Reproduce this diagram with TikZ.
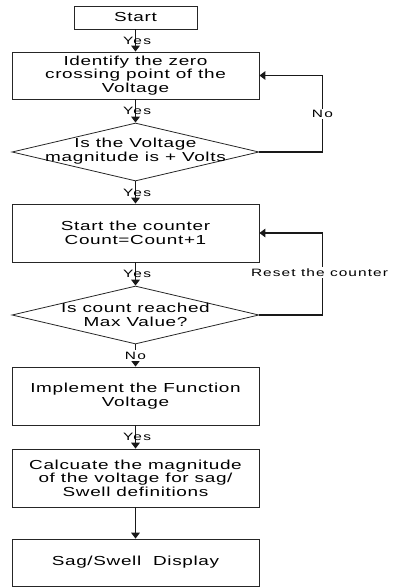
\documentclass[tikz,border=0pt]{standalone}
\usepackage{fontspec}
\setmainfont{Liberation Sans}[FakeStretch=1.45,LetterSpace=5]
\usetikzlibrary{shapes.geometric,arrows.meta}

\begin{document}
\begin{tikzpicture}[x=0.75pt,y=-0.75pt,
    box/.style={draw=black!85,line width=0.6pt,rectangle,minimum width=185.25pt,inner sep=0pt,align=center,font=\fontsize{9.8}{10.2}\selectfont},
    decision/.style={draw=black!85,line width=0.6pt,diamond,minimum width=185.25pt,minimum height=43.5pt,inner sep=0pt},
    flow/.style={draw=black!90,line width=0.9pt,-{Triangle[length=4.5pt,width=6.5pt]}},
    lbl/.style={font=\fontsize{8}{8.5}\selectfont\addfontfeature{LetterSpace=12},inner sep=1pt}]
                \useasboundingbox (0,0) rectangle (393,588);
                % 绘制流程框
                \node[box,minimum width=92.25pt,minimum height=17.25pt] (start) at (135.5,17.5) {Start};
                \node[box,minimum height=35.25pt] (zero) at (135.5,75.5) {Identify the zero\\crossing point of the\\Voltage};
                \node[decision] (chkv) at (135.5,152) {};
                \node[box,draw=none,minimum width=0pt] (chkvtxt) at (135.5,151) {Is the Voltage\\magnitude is + Volts};
                \node[box,minimum height=43.5pt] (count) at (135.5,233) {Start the counter\\Count=Count+1};
                \node[decision] (chkc) at (135.5,315) {};
                \node[box,draw=none,minimum width=0pt] (chkctxt) at (135.5,315) {Is count reached\\Max Value?};
                \node[box,minimum height=43.5pt] (func) at (135.5,396) {Implement the Function\\Voltage};
                \node[box,minimum height=43.5pt] (calc) at (135.5,478) {Calcuate the magnitude\\of the voltage for sag/\\Swell definitions};
                \node[box,minimum height=35.25pt] (disp) at (135.5,562.5) {Sag/Swell\ \ Display};
                % 绘制箭头
                \draw[flow] (start) -- node[lbl,xshift=1.2pt] {Yes} (zero);
                \draw[flow] (zero) -- node[lbl,xshift=1.2pt] {Yes} (chkv);
                \draw[flow] (chkv) -- node[lbl,xshift=1.2pt] {Yes} (count);
                \draw[flow] (count) -- node[lbl,xshift=1.2pt] {Yes} (chkc);
                \draw[flow] (chkc) -- node[lbl,fill=white] {No} (func);
                \draw[flow] (func) -- node[lbl,xshift=1.2pt] {Yes} (calc);
                \draw[flow] (calc) -- (disp);
                % 绘制回路
                \draw[flow] (chkv.east) -- ++(63,0) |- node[lbl,fill=white,pos=0.25] {No} (zero.east);
                \draw[flow] (chkc.east) -- ++(63,0) |- node[lbl,fill=white,pos=0.26,anchor=west,xshift=-55pt,font=\fontsize{8}{8.5}\selectfont\addfontfeature{LetterSpace=10}] {Reset the counter} (count.east);
            \end{tikzpicture}
\end{document}
